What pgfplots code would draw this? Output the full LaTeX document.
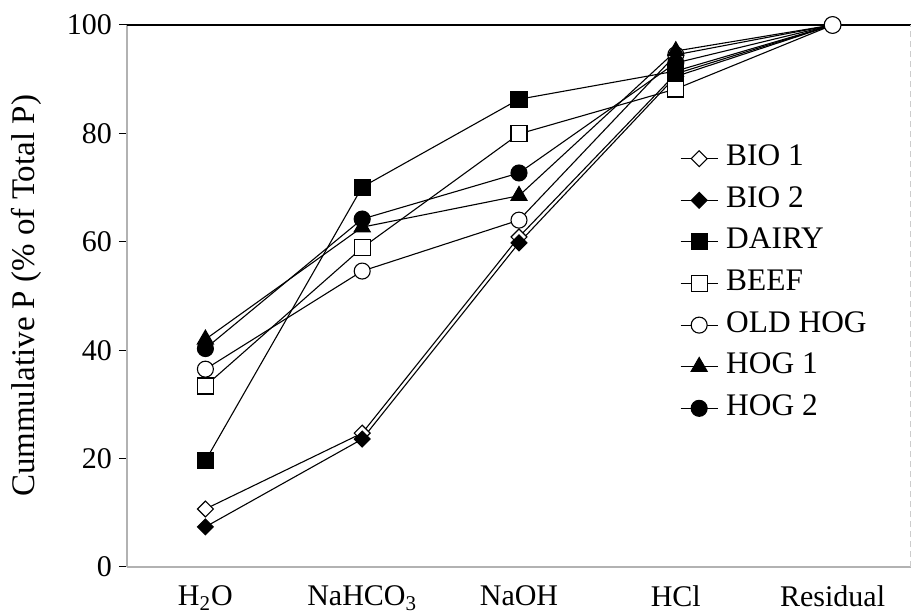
\documentclass[border=0pt]{standalone}
\usepackage{fontspec}
\setmainfont{Liberation Serif}
\usepackage{pgfplots}
\pgfplotsset{compat=1.18}
\begin{document}
\begin{tikzpicture}
\useasboundingbox (-63.5pt,-24pt) rectangle (392.5pt,283.5pt);
\begin{axis}[
  at={(0pt,0pt)}, anchor=south west,
  scale only axis, width=392pt, height=271pt,
  xmin=-0.5, xmax=4.5, ymin=0, ymax=100,
  xtick={0,1,2,3,4},
  xticklabels={H\textsubscript{2}O, NaHCO\textsubscript{3}, NaOH, HCl, Residual},
  ytick={0,20,40,60,80,100},
  axis x line*=bottom, axis y line*=left,
  axis line style={gray!60, line width=0.6pt, -},
  tick align=outside,
  major tick length=4pt,
  ytick style={black, line width=0.5pt},
  xtick style={draw=none},
  tick label style={font=\fontsize{15}{18}\selectfont},
  xticklabel style={yshift=-2pt},
  /pgf/number format/assume math mode=true,
  ylabel={Cummulative P (\% of Total P)},
  ylabel style={font=\fontsize{16.5}{19}\selectfont, at={(axis description cs:-0.128,0.5)}, anchor=center},
  every axis plot/.append style={black, line width=0.55pt},
  legend style={at={(axis description cs:0.705,0.778)}, anchor=north west, draw=none, fill=none,
    font=\fontsize{15.7}{18}\selectfont, inner sep=0pt, row sep=7.8pt, column sep=4pt,
    nodes={inner sep=0pt, text height=10pt, text depth=3pt}},
  legend cell align=left,
  legend image code/.code={\draw[mark indices={2}] plot coordinates {(0pt,0pt)(9.25pt,0pt)(18.5pt,0pt)};},
]
\addplot[mark=square*, mark size=2.8pt, mark indices={1,2,3,4}, mark options={solid, rotate=45, fill=white}] coordinates {(0,10.7)(1,24.7)(2,60.9)(3,91.0)(4,100)};
\addlegendentry{BIO 1}
\addplot[mark=square*, mark size=2.8pt, mark indices={1,2,3,4}, mark options={solid, rotate=45, fill=black}] coordinates {(0,7.4)(1,23.6)(2,59.8)(3,90.5)(4,100)};
\addlegendentry{BIO 2}
\addplot[mark=square*, mark size=4pt, mark indices={1,2,3,4}, mark options={solid, fill=black}] coordinates {(0,19.6)(1,70.1)(2,86.3)(3,91.5)(4,100)};
\addlegendentry{DAIRY}
\addplot[mark=square*, mark size=4pt, mark indices={1,2,3,4}, mark options={solid, fill=white}] coordinates {(0,33.4)(1,58.9)(2,79.9)(3,88.2)(4,100)};
\addlegendentry{BEEF}
\addplot[mark=*, mark size=4pt, mark indices={1,2,3,4,5}, mark options={solid, fill=white}] coordinates {(0,36.5)(1,54.6)(2,64.0)(3,94.5)(4,100)};
\addlegendentry{OLD HOG}
\addplot[mark=triangle*, mark size=4.6pt, mark indices={1,2,3,4}, mark options={solid, fill=black}] coordinates {(0,42.0)(1,62.7)(2,68.5)(3,95.2)(4,100)};
\addlegendentry{HOG 1}
\addplot[mark=*, mark size=4pt, mark indices={1,2,3,4}, mark options={solid, fill=black}] coordinates {(0,40.3)(1,64.2)(2,72.7)(3,93.0)(4,100)};
\addlegendentry{HOG 2}
\addplot[forget plot, only marks, mark=*, mark size=4.2pt, mark options={solid, fill=white}] coordinates {(4,100)};
\draw[black, line width=0.6pt] (axis cs:-0.5,100) -- (axis cs:4.5,100);
\draw[gray!40, line width=0.5pt, densely dashed] (axis cs:4.5,0) -- (axis cs:4.5,100);
\end{axis}
\end{tikzpicture}
\end{document}
